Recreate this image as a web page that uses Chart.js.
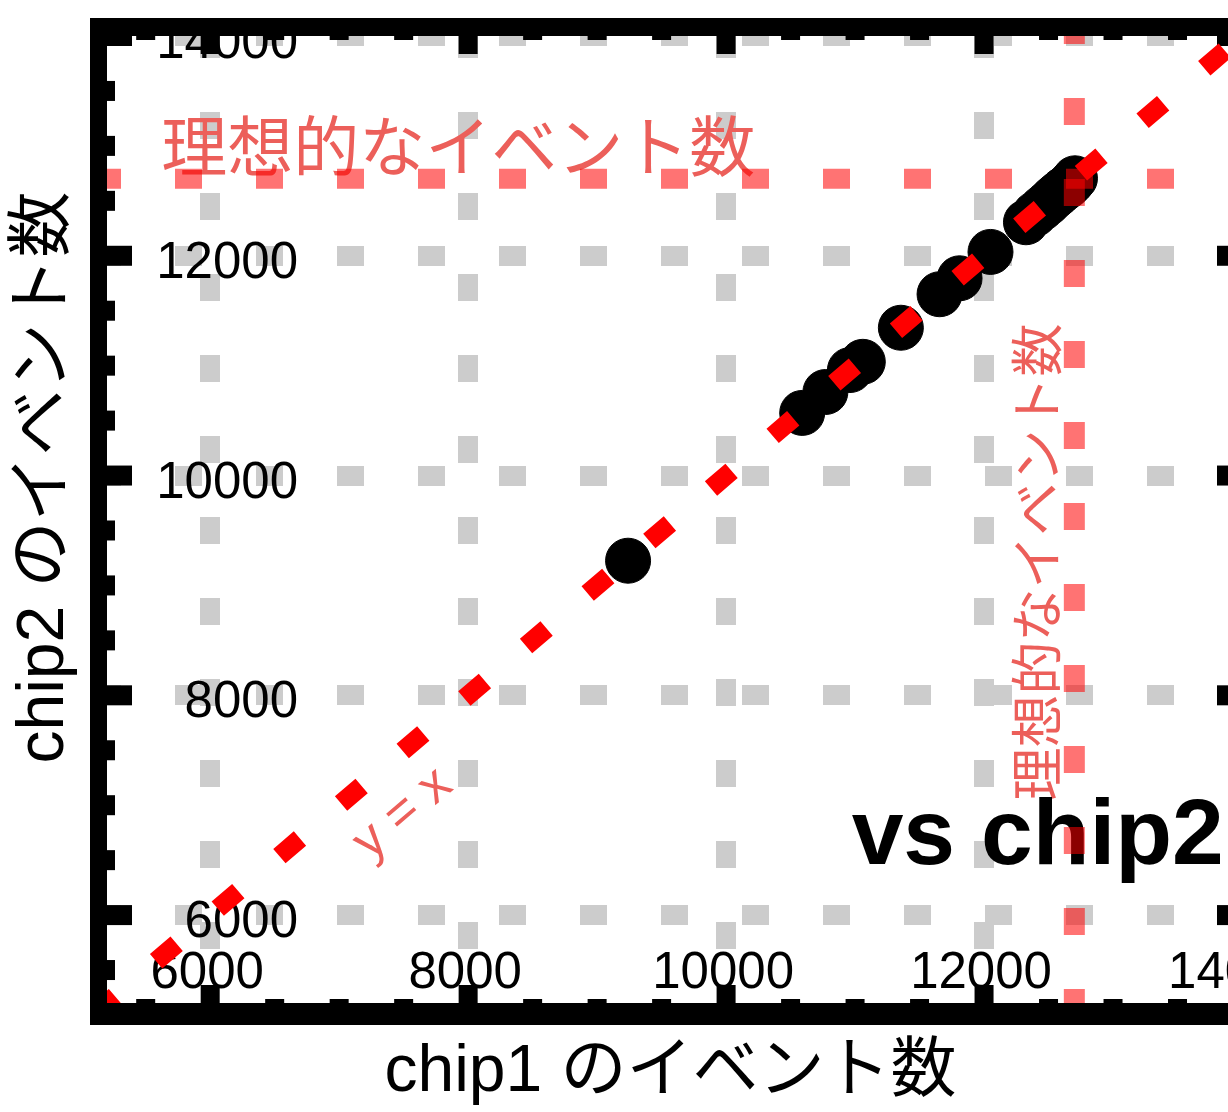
<!DOCTYPE html>
<html>
<head>
<meta charset="utf-8">
<script src="https://cdn.jsdelivr.net/npm/chart.js@4.4.0/dist/chart.umd.min.js"></script>
<style>
html, body { margin: 0; padding: 0; overflow: hidden; background: #fff; }
#wrap { position: relative; width: 1280px; height: 1112px; }
</style>
</head>
<body>
<div id="wrap"><canvas id="myChart"></canvas></div>
<script>
const chip1Counts = [9240, 10590, 10770, 10960, 11060, 11355, 11655, 11810, 12050, 12325, 12395, 12450, 12495, 12535, 12570, 12610, 12650, 12680, 12705];
const chip2Counts = [9225, 10570, 10760, 10960, 11035, 11345, 11650, 11795, 12035, 12305, 12380, 12435, 12480, 12525, 12560, 12600, 12635, 12670, 12705];
const idealCount = 12700;
const axisRange = [5200, 14000];
const majorTicks = [6000, 8000, 10000, 12000, 14000];
const minorStep = 500;

const xTitle = "chip1 のイベント数";
const yTitle = "chip2 のイベント数";
const idealLabel = "理想的なイベント数";
const diagLabel = "y = x";
const panelLabel = "vs chip2";

const canvas = document.getElementById("myChart");
const coral = "#ec5f5a";

// frame, inward ticks, labels and texts (drawn under the datasets)
const framePlugin = {
    id: "frame",
    beforeDatasetsDraw(chart) {
        const ctx = chart.ctx;
        const a = chart.chartArea;
        const xs = chart.scales.x;
        const ys = chart.scales.y;
        ctx.save();

        // tick labels
        ctx.fillStyle = "#000";
        ctx.font = "51px 'Liberation Sans', Arial, sans-serif";
        ctx.textBaseline = "alphabetic";
        ctx.textAlign = "center";
        xs.ticks.forEach(t => ctx.fillText(String(t.value), xs.getPixelForValue(t.value) - 3, a.bottom - 15));
        ctx.textAlign = "right";
        ys.ticks.forEach(t => ctx.fillText(String(t.value), a.left + 191, ys.getPixelForValue(t.value) + 22));

        // annotations
        ctx.fillStyle = coral;
        ctx.font = "66px 'Noto Sans CJK JP', sans-serif";
        ctx.textAlign = "left";
        ctx.textBaseline = "middle";
        ctx.fillText(idealLabel, xs.getPixelForValue(5620), ys.getPixelForValue(13000));

        ctx.save();
        ctx.translate(xs.getPixelForValue(12409), ys.getPixelForValue(9213));
        ctx.rotate(-Math.PI / 2);
        ctx.font = "53px 'Noto Sans CJK JP', sans-serif";
        ctx.textAlign = "center";
        ctx.fillText(idealLabel, 0, 0);
        ctx.restore();

        const ang = Math.atan2(ys.getPixelForValue(axisRange[1]) - ys.getPixelForValue(axisRange[0]),
            xs.getPixelForValue(axisRange[1]) - xs.getPixelForValue(axisRange[0]));
        ctx.save();
        ctx.translate(xs.getPixelForValue(7495), ys.getPixelForValue(6920));
        ctx.rotate(ang);
        ctx.font = "52px 'Liberation Sans', Arial, sans-serif";
        ctx.textAlign = "center";
        ctx.fillText(diagLabel, 0, 0);
        ctx.restore();

        ctx.fillStyle = "#000";
        ctx.font = "bold 93px 'Liberation Sans', Arial, sans-serif";
        ctx.textAlign = "right";
        ctx.textBaseline = "alphabetic";
        ctx.fillText(panelLabel, xs.getPixelForValue(13859), ys.getPixelForValue(6465));

        // thick frame
        ctx.fillRect(a.left - 17, a.top - 18, a.width + 35, 18);
        ctx.fillRect(a.left - 17, a.bottom, a.width + 35, 22);
        ctx.fillRect(a.left - 17, a.top - 18, 17, a.height + 40);
        ctx.fillRect(a.right, a.top - 18, 18, a.height + 40);

        // inward ticks
        for (let v = Math.ceil(axisRange[0] / minorStep) * minorStep; v <= axisRange[1]; v += minorStep) {
            const major = majorTicks.includes(v);
            const px = xs.getPixelForValue(v);
            const lx = major ? 18 : 4;
            ctx.fillRect(px - 9.5, a.bottom - lx, 19, lx);
            ctx.fillRect(px - 9.5, a.top, 19, lx);
            const py = ys.getPixelForValue(v);
            const ly = major ? 25 : 8;
            ctx.fillRect(a.left, py - 10, ly, 20);
            ctx.fillRect(a.right - ly, py - 10, ly, 20);
        }

        // axis titles
        ctx.font = "66px 'Liberation Sans', 'Noto Sans CJK JP', sans-serif";
        ctx.textAlign = "center";
        ctx.textBaseline = "alphabetic";
        ctx.fillText(xTitle, (a.left + a.right) / 2 - 4, a.bottom + 88);
        ctx.save();
        ctx.translate(63, (a.top + a.bottom) / 2 - 42);
        ctx.rotate(-Math.PI / 2);
        ctx.fillText(yTitle, 0, 0);
        ctx.restore();

        ctx.restore();
    }
};

const gridStyle = (offset) => ({
    type: "linear",
    min: axisRange[0],
    max: axisRange[1],
    afterBuildTicks: s => { s.ticks = majorTicks.map(v => ({ value: v })); },
    ticks: { display: false },
    grid: { color: "#cccccc", lineWidth: 20, drawTicks: false },
    border: { display: false, dash: [27, 54], dashOffset: offset }
});

const config = {
    type: "scatter",
    data: {
        datasets: [{
            label: "y = x",
            data: [{ x: axisRange[0], y: axisRange[0] }, { x: axisRange[1], y: axisRange[1] }],
            showLine: true,
            borderColor: "#ff0000",
            borderWidth: 19,
            borderDash: [27, 54],
            borderDashOffset: 16.5,
            borderCapStyle: "butt",
            pointRadius: 0,
            order: 0
        }, {
            label: "ideal chip2",
            data: [{ x: axisRange[0], y: idealCount }, { x: axisRange[1], y: idealCount }],
            showLine: true,
            borderColor: "rgba(255,0,0,0.55)",
            borderWidth: 20,
            borderDash: [27, 54],
            borderDashOffset: 13,
            borderCapStyle: "butt",
            pointRadius: 0,
            order: 1
        }, {
            label: "ideal chip1",
            data: [{ x: idealCount, y: axisRange[0] }, { x: idealCount, y: axisRange[1] }],
            showLine: true,
            borderColor: "rgba(255,0,0,0.55)",
            borderWidth: 21,
            borderDash: [27, 54],
            borderDashOffset: 13,
            borderCapStyle: "butt",
            pointRadius: 0,
            order: 1
        }, {
            label: "events",
            data: chip1Counts.map((v, i) => ({ x: v, y: chip2Counts[i] })),
            backgroundColor: "#000",
            borderColor: "#000",
            borderWidth: 1,
            pointRadius: 22.5,
            order: 2
        }]
    },
    options: {
        responsive: true,
        maintainAspectRatio: false,
        animation: false,
        events: [],
        layout: { padding: { left: 107, top: 36, right: 38, bottom: 109 }, autoPadding: false },
        scales: {
            x: gridStyle(5),
            y: gridStyle(13)
        },
        plugins: {
            legend: { display: false },
            tooltip: { enabled: false }
        }
    },
    plugins: [framePlugin]
};

myChart = new Chart(canvas, config);
</script>
</body>
</html>
